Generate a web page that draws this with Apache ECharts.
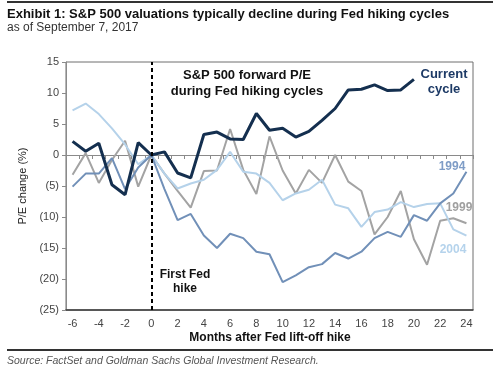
<!DOCTYPE html>
<html><head><meta charset="utf-8">
<script src="https://cdn.jsdelivr.net/npm/echarts@6/dist/echarts.min.js"></script>
<style>html,body{margin:0;padding:0;background:#fff}#c{width:500px;height:371px}</style>
</head><body><div id="c"></div>
<script>
var months = [-6,-5,-4,-3,-2,-1,0,1,2,3,4,5,6,7,8,9,10,11,12,13,14,15,16,17,18,19,20,21,22,23,24];
var yTicks = [15,10,5,0,-5,-10,-15,-20,-25];
var cycle1994 = [-5.1,-3,-3,-0.5,-5.5,-2,0,-5.5,-10.5,-9.5,-13,-15,-12.7,-13.4,-15.6,-16,-20.5,-19.4,-18.1,-17.6,-15.8,-16.7,-15.6,-13.4,-12.4,-13.2,-9.7,-10.6,-7.8,-6.2,-2.7];
var cycle1999 = [-3.2,0.3,-4.5,-0.8,2.3,-5.1,0,-3,-5.8,-8.5,-2.6,-2.5,4.2,-2.4,-6.3,3.0,-2.5,-6.2,-2.4,-4.5,0,-4.3,-5.8,-12.8,-10,-5.8,-13.6,-17.7,-10.6,-10.2,-11];
var cycle2004 = [7.2,8.3,6.6,4.3,1.7,-1.5,0,-3,-5.4,-4.6,-4.0,-2.4,0.5,-2.7,-3,-4.5,-7.3,-6.2,-5.6,-4,-8,-8.6,-11.6,-9.2,-8.8,-7.6,-8.4,-7.9,-7.8,-12,-13];
var current = [2.2,0.6,1.9,-4.8,-6.4,2.0,0,0.5,-2.9,-3.7,3.3,3.7,2.6,2.5,6.7,4.0,4.3,2.9,3.8,5.6,7.5,10.5,10.6,11.3,10.4,10.5,12.2];

var cats = months.map(String);
var FONT = '"Liberation Sans", Arial, sans-serif';
var chart = echarts.init(document.getElementById('c'), null, {renderer:'canvas'});
function txt(x,y,s,opt){
  opt = opt||{};
  return {type:'text', x:x, y:y, style:{text:s, fill:opt.fill||'#000', font:(opt.style||'')+' '+(opt.weight||'normal')+' '+(opt.size||12)+'px '+FONT, textAlign:opt.align||'left', textVerticalAlign:'middle'}, z:100};
}
chart.setOption({
  animation:false,
  grid:{left:66, right:27, top:62, bottom:61, show:true, borderColor:'#6e6e6e', borderWidth:1},
  xAxis:[
    {type:'category', data:cats, boundaryGap:true, position:'bottom',
     axisLine:{onZero:false, lineStyle:{color:'#3a3a3a', width:1.5}}, axisTick:{show:false},
     axisLabel:{interval:1, color:'#444', fontSize:11, fontFamily:FONT, margin:8}},
    {type:'category', data:cats, boundaryGap:true, position:'bottom',
     axisLine:{show:true, onZero:true, lineStyle:{color:'#8a8a8a', width:1}},
     axisTick:{show:true, interval:0, length:4, inside:false, lineStyle:{color:'#8a8a8a'}},
     axisLabel:{show:false}}
  ],
  yAxis:{type:'value', min:-25, max:15, interval:5,
    axisLine:{show:true, lineStyle:{color:'#8a8a8a'}},
    axisTick:{show:true, length:4, lineStyle:{color:'#8a8a8a'}},
    splitLine:{show:false},
    axisLabel:{color:'#444', fontSize:11, fontFamily:FONT, margin:7,
      formatter:function(v){ return v<0 ? '('+(-v)+')' : String(v); }},
    name:'P/E change (%)', nameLocation:'middle', nameGap:37, nameRotate:90,
    nameTextStyle:{color:'#222', fontSize:11, fontFamily:FONT}},
  series:[
    {name:'1999', type:'line', data:cycle1999, showSymbol:false, symbol:'none', lineStyle:{color:'#a3a3a3', width:2}},
    {name:'2004', type:'line', data:cycle2004, showSymbol:false, symbol:'none', lineStyle:{color:'#b5d2ea', width:2}},
    {name:'1994', type:'line', data:cycle1994, showSymbol:false, symbol:'none', lineStyle:{color:'#7190b8', width:2}},
    {name:'Current', type:'line', data:current, showSymbol:false, symbol:'none', lineStyle:{color:'#142f4f', width:3},
     markLine:{silent:true, symbol:'none', label:{show:false},
       lineStyle:{color:'#000', type:[4,3], width:2},
       data:[{xAxis:'0'}]}}
  ],
  graphic:[
    {type:'rect', shape:{x:7,y:1,width:486,height:2}, style:{fill:'#333'}},
    txt(7,14,'Exhibit 1: S&P 500 valuations typically decline during Fed hiking cycles',{weight:'bold',size:13,fill:'#111'}),
    txt(7,28,'as of September 7, 2017',{size:12,fill:'#333'}),
    txt(247,75,'S&P 500 forward P/E',{weight:'bold',size:13,align:'center',fill:'#111'}),
    txt(247,91,'during Fed hiking cycles',{weight:'bold',size:13,align:'center',fill:'#111'}),
    txt(444,74,'Current',{weight:'bold',size:13,align:'center',fill:'#1d3a66'}),
    txt(444,89,'cycle',{weight:'bold',size:13,align:'center',fill:'#1d3a66'}),
    txt(452,167,'1994',{weight:'bold',size:12,align:'center',fill:'#7e9cc6'}),
    txt(459,208,'1999',{weight:'bold',size:12,align:'center',fill:'#a0a0a0'}),
    txt(453,250,'2004',{weight:'bold',size:12,align:'center',fill:'#b5d3ec'}),
    txt(185,275,'First Fed',{weight:'bold',size:12,align:'center',fill:'#111'}),
    txt(185,289,'hike',{weight:'bold',size:12,align:'center',fill:'#111'}),
    txt(270,338,'Months after Fed lift-off hike',{weight:'bold',size:12,align:'center',fill:'#111'}),
    {type:'rect', shape:{x:7,y:349,width:486,height:2}, style:{fill:'#333'}},
    txt(7,361,'Source: FactSet and Goldman Sachs Global Investment Research.',{style:'italic',size:10.5,fill:'#555'})
  ]
});
</script></body></html>
